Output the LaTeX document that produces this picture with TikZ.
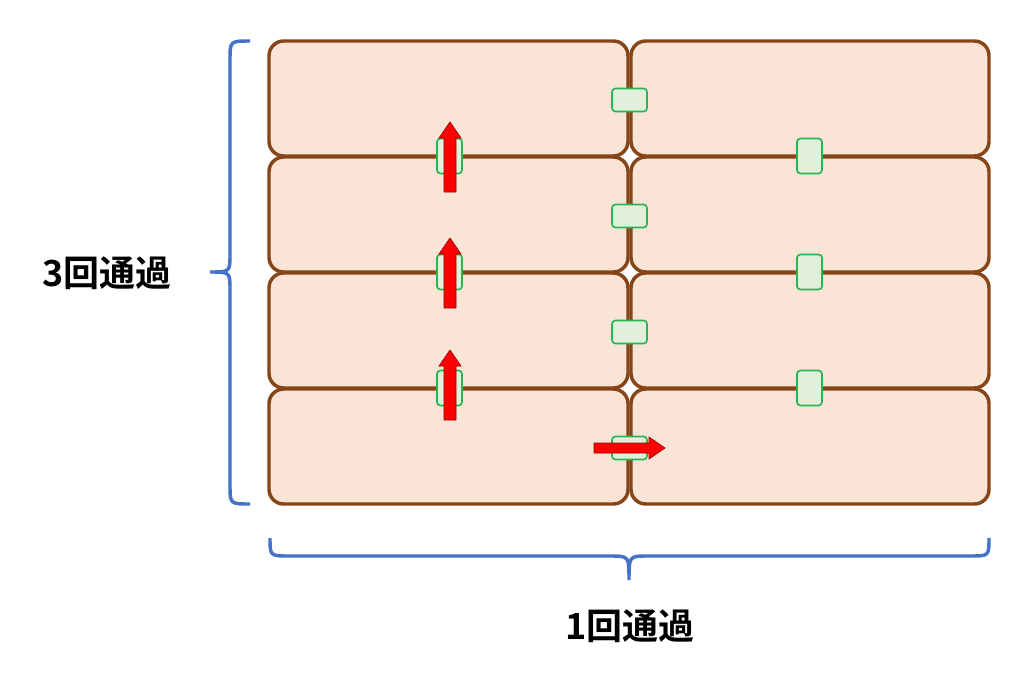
\documentclass[tikz,border=0pt]{standalone}
\usepackage{fontspec}
\newfontfamily\cjk{Noto Sans CJK JP Bold}
\begin{document}
\begin{tikzpicture}[x=0.75pt,y=-0.75pt,
 cell/.style={draw=brown!70!black,draw={rgb,255:red,133;green,69;blue,22},line width=2.6pt,fill={rgb,255:red,250;green,228;blue,214},rounded corners=11pt},
 gate/.style={draw={rgb,255:red,40;green,180;blue,80},line width=1.2pt,fill={rgb,255:red,226;green,239;blue,218},rounded corners=2.5pt},
 arr/.style={fill=red,draw={rgb,255:red,150;green,0;blue,0},line width=0.5pt},
 brace/.style={draw={rgb,255:red,68;green,114;blue,196},line width=2.6pt},
 lab/.style={font=\cjk\fontsize{27}{30}\selectfont}]
\useasboundingbox (0,0) rectangle (1024,678);
\foreach \r/\t/\b in {1/41/156,2/157/272,3/273/388,4/389/504}{
  \path[cell] (269,\t) rectangle (628,\b);
  \path[cell] (631,\t) rectangle (989,\b);
}
\foreach \y in {100,216,332,448}{\path[gate] (612,\y-11.5) rectangle (647,\y+11.5);}
\foreach \y in {156,272,388}{
  \path[gate] (437,\y-17.5) rectangle (462,\y+17.5);
  \path[gate] (797,\y-17.5) rectangle (822,\y+17.5);}
\foreach \y in {122,238,350}{
  \path[arr] (444,\y+70) -- (444,\y+16) -- (439,\y+16) -- (450,\y) -- (461,\y+16) -- (456,\y+16) -- (456,\y+70) -- cycle;}
\path[arr] (594,443) -- (649,443) -- (649,437) -- (665,448) -- (649,459) -- (649,453) -- (594,453) -- cycle;
\draw[brace] (250,41) .. controls (230,41) .. (230,60) -- (230,254) .. controls (230,272) .. (210,272)
  .. controls (230,272) .. (230,290) -- (230,485) .. controls (230,504) .. (250,504);
\draw[brace] (270,538) .. controls (270,556) .. (290,556) -- (610,556) .. controls (629,556) .. (629,580)
  .. controls (629,556) .. (648,556) -- (970,556) .. controls (989,556) .. (989,538);
\node[lab] (l3) at (107,273) {3回通過};
\node[lab] (l1) at (630,626) {1回通過};
\end{tikzpicture}
\end{document}
